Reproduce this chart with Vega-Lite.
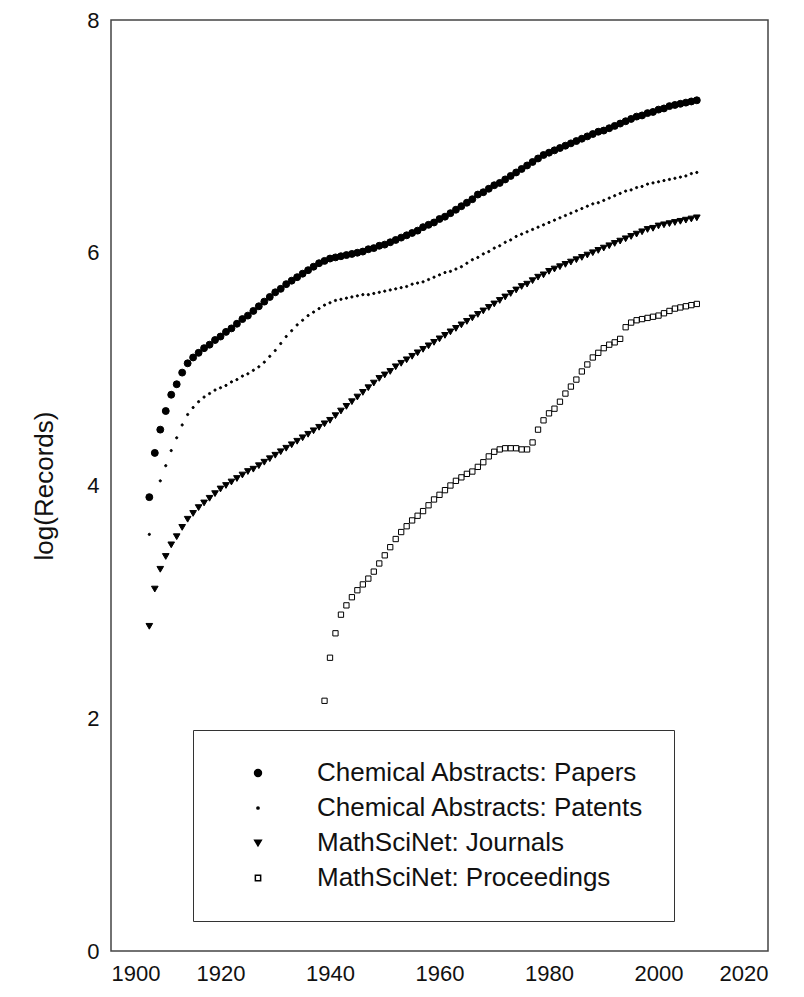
{
 "$schema": "https://vega.github.io/schema/vega-lite/v6.json",
 "width": 657, "height": 931,
 "autosize": {"type": "none"},
 "padding": {"left": 111, "top": 20, "right": 36, "bottom": 46},
 "background": "white",
 "config": {
  "view": {"stroke": "#444", "strokeWidth": 1.5},
  "font": "Liberation Sans",
  "axis": {"grid": false, "domain": false, "ticks": false, "labelFontSize": 22, "labelColor": "#111", "titleFontSize": 26, "titleFontWeight": "normal", "titleColor": "#111", "labelPadding": 12}
 },
 "datasets": {
  "rows": [
{"year":1907,"series":"Chemical Abstracts: Papers","value":3.90},{"year":1908,"series":"Chemical Abstracts: Papers","value":4.28},{"year":1909,"series":"Chemical Abstracts: Papers","value":4.48},{"year":1910,"series":"Chemical Abstracts: Papers","value":4.64},{"year":1911,"series":"Chemical Abstracts: Papers","value":4.78},{"year":1912,"series":"Chemical Abstracts: Papers","value":4.87},{"year":1913,"series":"Chemical Abstracts: Papers","value":4.97},{"year":1914,"series":"Chemical Abstracts: Papers","value":5.05},{"year":1915,"series":"Chemical Abstracts: Papers","value":5.10},{"year":1916,"series":"Chemical Abstracts: Papers","value":5.14},{"year":1917,"series":"Chemical Abstracts: Papers","value":5.18},{"year":1918,"series":"Chemical Abstracts: Papers","value":5.21},{"year":1919,"series":"Chemical Abstracts: Papers","value":5.25},{"year":1920,"series":"Chemical Abstracts: Papers","value":5.28},{"year":1921,"series":"Chemical Abstracts: Papers","value":5.32},{"year":1922,"series":"Chemical Abstracts: Papers","value":5.35},{"year":1923,"series":"Chemical Abstracts: Papers","value":5.39},{"year":1924,"series":"Chemical Abstracts: Papers","value":5.43},{"year":1925,"series":"Chemical Abstracts: Papers","value":5.46},{"year":1926,"series":"Chemical Abstracts: Papers","value":5.50},{"year":1927,"series":"Chemical Abstracts: Papers","value":5.54},{"year":1928,"series":"Chemical Abstracts: Papers","value":5.58},{"year":1929,"series":"Chemical Abstracts: Papers","value":5.62},{"year":1930,"series":"Chemical Abstracts: Papers","value":5.66},{"year":1931,"series":"Chemical Abstracts: Papers","value":5.69},{"year":1932,"series":"Chemical Abstracts: Papers","value":5.73},{"year":1933,"series":"Chemical Abstracts: Papers","value":5.76},{"year":1934,"series":"Chemical Abstracts: Papers","value":5.79},{"year":1935,"series":"Chemical Abstracts: Papers","value":5.82},{"year":1936,"series":"Chemical Abstracts: Papers","value":5.85},{"year":1937,"series":"Chemical Abstracts: Papers","value":5.88},{"year":1938,"series":"Chemical Abstracts: Papers","value":5.91},{"year":1939,"series":"Chemical Abstracts: Papers","value":5.93},{"year":1940,"series":"Chemical Abstracts: Papers","value":5.95},{"year":1941,"series":"Chemical Abstracts: Papers","value":5.96},{"year":1942,"series":"Chemical Abstracts: Papers","value":5.97},{"year":1943,"series":"Chemical Abstracts: Papers","value":5.98},{"year":1944,"series":"Chemical Abstracts: Papers","value":5.99},{"year":1945,"series":"Chemical Abstracts: Papers","value":6.00},{"year":1946,"series":"Chemical Abstracts: Papers","value":6.01},{"year":1947,"series":"Chemical Abstracts: Papers","value":6.03},{"year":1948,"series":"Chemical Abstracts: Papers","value":6.04},{"year":1949,"series":"Chemical Abstracts: Papers","value":6.06},{"year":1950,"series":"Chemical Abstracts: Papers","value":6.07},{"year":1951,"series":"Chemical Abstracts: Papers","value":6.09},{"year":1952,"series":"Chemical Abstracts: Papers","value":6.11},{"year":1953,"series":"Chemical Abstracts: Papers","value":6.13},{"year":1954,"series":"Chemical Abstracts: Papers","value":6.15},{"year":1955,"series":"Chemical Abstracts: Papers","value":6.17},{"year":1956,"series":"Chemical Abstracts: Papers","value":6.19},{"year":1957,"series":"Chemical Abstracts: Papers","value":6.22},{"year":1958,"series":"Chemical Abstracts: Papers","value":6.24},{"year":1959,"series":"Chemical Abstracts: Papers","value":6.26},{"year":1960,"series":"Chemical Abstracts: Papers","value":6.29},{"year":1961,"series":"Chemical Abstracts: Papers","value":6.31},{"year":1962,"series":"Chemical Abstracts: Papers","value":6.34},{"year":1963,"series":"Chemical Abstracts: Papers","value":6.37},{"year":1964,"series":"Chemical Abstracts: Papers","value":6.40},{"year":1965,"series":"Chemical Abstracts: Papers","value":6.43},{"year":1966,"series":"Chemical Abstracts: Papers","value":6.46},{"year":1967,"series":"Chemical Abstracts: Papers","value":6.50},{"year":1968,"series":"Chemical Abstracts: Papers","value":6.52},{"year":1969,"series":"Chemical Abstracts: Papers","value":6.55},{"year":1970,"series":"Chemical Abstracts: Papers","value":6.58},{"year":1971,"series":"Chemical Abstracts: Papers","value":6.60},{"year":1972,"series":"Chemical Abstracts: Papers","value":6.63},{"year":1973,"series":"Chemical Abstracts: Papers","value":6.66},{"year":1974,"series":"Chemical Abstracts: Papers","value":6.69},{"year":1975,"series":"Chemical Abstracts: Papers","value":6.72},{"year":1976,"series":"Chemical Abstracts: Papers","value":6.75},{"year":1977,"series":"Chemical Abstracts: Papers","value":6.78},{"year":1978,"series":"Chemical Abstracts: Papers","value":6.81},{"year":1979,"series":"Chemical Abstracts: Papers","value":6.84},{"year":1980,"series":"Chemical Abstracts: Papers","value":6.86},{"year":1981,"series":"Chemical Abstracts: Papers","value":6.88},{"year":1982,"series":"Chemical Abstracts: Papers","value":6.90},{"year":1983,"series":"Chemical Abstracts: Papers","value":6.92},{"year":1984,"series":"Chemical Abstracts: Papers","value":6.94},{"year":1985,"series":"Chemical Abstracts: Papers","value":6.96},{"year":1986,"series":"Chemical Abstracts: Papers","value":6.98},{"year":1987,"series":"Chemical Abstracts: Papers","value":7.00},{"year":1988,"series":"Chemical Abstracts: Papers","value":7.02},{"year":1989,"series":"Chemical Abstracts: Papers","value":7.04},{"year":1990,"series":"Chemical Abstracts: Papers","value":7.05},{"year":1991,"series":"Chemical Abstracts: Papers","value":7.07},{"year":1992,"series":"Chemical Abstracts: Papers","value":7.09},{"year":1993,"series":"Chemical Abstracts: Papers","value":7.11},{"year":1994,"series":"Chemical Abstracts: Papers","value":7.13},{"year":1995,"series":"Chemical Abstracts: Papers","value":7.15},{"year":1996,"series":"Chemical Abstracts: Papers","value":7.17},{"year":1997,"series":"Chemical Abstracts: Papers","value":7.18},{"year":1998,"series":"Chemical Abstracts: Papers","value":7.20},{"year":1999,"series":"Chemical Abstracts: Papers","value":7.21},{"year":2000,"series":"Chemical Abstracts: Papers","value":7.23},{"year":2001,"series":"Chemical Abstracts: Papers","value":7.24},{"year":2002,"series":"Chemical Abstracts: Papers","value":7.26},{"year":2003,"series":"Chemical Abstracts: Papers","value":7.27},{"year":2004,"series":"Chemical Abstracts: Papers","value":7.28},{"year":2005,"series":"Chemical Abstracts: Papers","value":7.29},{"year":2006,"series":"Chemical Abstracts: Papers","value":7.30},{"year":2007,"series":"Chemical Abstracts: Papers","value":7.31},
{"year":1907,"series":"Chemical Abstracts: Patents","value":3.58},{"year":1909,"series":"Chemical Abstracts: Patents","value":4.04},{"year":1910,"series":"Chemical Abstracts: Patents","value":4.17},{"year":1911,"series":"Chemical Abstracts: Patents","value":4.30},{"year":1912,"series":"Chemical Abstracts: Patents","value":4.41},{"year":1913,"series":"Chemical Abstracts: Patents","value":4.52},{"year":1914,"series":"Chemical Abstracts: Patents","value":4.61},{"year":1915,"series":"Chemical Abstracts: Patents","value":4.67},{"year":1916,"series":"Chemical Abstracts: Patents","value":4.72},{"year":1917,"series":"Chemical Abstracts: Patents","value":4.76},{"year":1918,"series":"Chemical Abstracts: Patents","value":4.79},{"year":1919,"series":"Chemical Abstracts: Patents","value":4.82},{"year":1920,"series":"Chemical Abstracts: Patents","value":4.84},{"year":1921,"series":"Chemical Abstracts: Patents","value":4.86},{"year":1922,"series":"Chemical Abstracts: Patents","value":4.89},{"year":1923,"series":"Chemical Abstracts: Patents","value":4.91},{"year":1924,"series":"Chemical Abstracts: Patents","value":4.94},{"year":1925,"series":"Chemical Abstracts: Patents","value":4.96},{"year":1926,"series":"Chemical Abstracts: Patents","value":4.99},{"year":1927,"series":"Chemical Abstracts: Patents","value":5.02},{"year":1928,"series":"Chemical Abstracts: Patents","value":5.06},{"year":1929,"series":"Chemical Abstracts: Patents","value":5.11},{"year":1930,"series":"Chemical Abstracts: Patents","value":5.16},{"year":1931,"series":"Chemical Abstracts: Patents","value":5.22},{"year":1932,"series":"Chemical Abstracts: Patents","value":5.28},{"year":1933,"series":"Chemical Abstracts: Patents","value":5.33},{"year":1934,"series":"Chemical Abstracts: Patents","value":5.38},{"year":1935,"series":"Chemical Abstracts: Patents","value":5.42},{"year":1936,"series":"Chemical Abstracts: Patents","value":5.46},{"year":1937,"series":"Chemical Abstracts: Patents","value":5.49},{"year":1938,"series":"Chemical Abstracts: Patents","value":5.52},{"year":1939,"series":"Chemical Abstracts: Patents","value":5.55},{"year":1940,"series":"Chemical Abstracts: Patents","value":5.57},{"year":1941,"series":"Chemical Abstracts: Patents","value":5.59},{"year":1942,"series":"Chemical Abstracts: Patents","value":5.60},{"year":1943,"series":"Chemical Abstracts: Patents","value":5.61},{"year":1944,"series":"Chemical Abstracts: Patents","value":5.62},{"year":1945,"series":"Chemical Abstracts: Patents","value":5.63},{"year":1946,"series":"Chemical Abstracts: Patents","value":5.64},{"year":1947,"series":"Chemical Abstracts: Patents","value":5.64},{"year":1948,"series":"Chemical Abstracts: Patents","value":5.65},{"year":1949,"series":"Chemical Abstracts: Patents","value":5.66},{"year":1950,"series":"Chemical Abstracts: Patents","value":5.67},{"year":1951,"series":"Chemical Abstracts: Patents","value":5.68},{"year":1952,"series":"Chemical Abstracts: Patents","value":5.69},{"year":1953,"series":"Chemical Abstracts: Patents","value":5.70},{"year":1954,"series":"Chemical Abstracts: Patents","value":5.71},{"year":1955,"series":"Chemical Abstracts: Patents","value":5.73},{"year":1956,"series":"Chemical Abstracts: Patents","value":5.74},{"year":1957,"series":"Chemical Abstracts: Patents","value":5.75},{"year":1958,"series":"Chemical Abstracts: Patents","value":5.77},{"year":1959,"series":"Chemical Abstracts: Patents","value":5.79},{"year":1960,"series":"Chemical Abstracts: Patents","value":5.81},{"year":1961,"series":"Chemical Abstracts: Patents","value":5.83},{"year":1962,"series":"Chemical Abstracts: Patents","value":5.84},{"year":1963,"series":"Chemical Abstracts: Patents","value":5.86},{"year":1964,"series":"Chemical Abstracts: Patents","value":5.88},{"year":1965,"series":"Chemical Abstracts: Patents","value":5.91},{"year":1966,"series":"Chemical Abstracts: Patents","value":5.94},{"year":1967,"series":"Chemical Abstracts: Patents","value":5.96},{"year":1968,"series":"Chemical Abstracts: Patents","value":5.99},{"year":1969,"series":"Chemical Abstracts: Patents","value":6.01},{"year":1970,"series":"Chemical Abstracts: Patents","value":6.04},{"year":1971,"series":"Chemical Abstracts: Patents","value":6.06},{"year":1972,"series":"Chemical Abstracts: Patents","value":6.09},{"year":1973,"series":"Chemical Abstracts: Patents","value":6.11},{"year":1974,"series":"Chemical Abstracts: Patents","value":6.14},{"year":1975,"series":"Chemical Abstracts: Patents","value":6.16},{"year":1976,"series":"Chemical Abstracts: Patents","value":6.18},{"year":1977,"series":"Chemical Abstracts: Patents","value":6.20},{"year":1978,"series":"Chemical Abstracts: Patents","value":6.22},{"year":1979,"series":"Chemical Abstracts: Patents","value":6.24},{"year":1980,"series":"Chemical Abstracts: Patents","value":6.26},{"year":1981,"series":"Chemical Abstracts: Patents","value":6.28},{"year":1982,"series":"Chemical Abstracts: Patents","value":6.30},{"year":1983,"series":"Chemical Abstracts: Patents","value":6.32},{"year":1984,"series":"Chemical Abstracts: Patents","value":6.34},{"year":1985,"series":"Chemical Abstracts: Patents","value":6.36},{"year":1986,"series":"Chemical Abstracts: Patents","value":6.38},{"year":1987,"series":"Chemical Abstracts: Patents","value":6.40},{"year":1988,"series":"Chemical Abstracts: Patents","value":6.42},{"year":1989,"series":"Chemical Abstracts: Patents","value":6.43},{"year":1990,"series":"Chemical Abstracts: Patents","value":6.45},{"year":1991,"series":"Chemical Abstracts: Patents","value":6.47},{"year":1992,"series":"Chemical Abstracts: Patents","value":6.49},{"year":1993,"series":"Chemical Abstracts: Patents","value":6.51},{"year":1994,"series":"Chemical Abstracts: Patents","value":6.53},{"year":1995,"series":"Chemical Abstracts: Patents","value":6.54},{"year":1996,"series":"Chemical Abstracts: Patents","value":6.56},{"year":1997,"series":"Chemical Abstracts: Patents","value":6.57},{"year":1998,"series":"Chemical Abstracts: Patents","value":6.59},{"year":1999,"series":"Chemical Abstracts: Patents","value":6.60},{"year":2000,"series":"Chemical Abstracts: Patents","value":6.61},{"year":2001,"series":"Chemical Abstracts: Patents","value":6.62},{"year":2002,"series":"Chemical Abstracts: Patents","value":6.63},{"year":2003,"series":"Chemical Abstracts: Patents","value":6.64},{"year":2004,"series":"Chemical Abstracts: Patents","value":6.65},{"year":2005,"series":"Chemical Abstracts: Patents","value":6.66},{"year":2006,"series":"Chemical Abstracts: Patents","value":6.68},{"year":2007,"series":"Chemical Abstracts: Patents","value":6.69},
{"year":1907,"series":"MathSciNet: Journals","value":2.79},{"year":1908,"series":"MathSciNet: Journals","value":3.11},{"year":1909,"series":"MathSciNet: Journals","value":3.28},{"year":1910,"series":"MathSciNet: Journals","value":3.39},{"year":1911,"series":"MathSciNet: Journals","value":3.49},{"year":1912,"series":"MathSciNet: Journals","value":3.56},{"year":1913,"series":"MathSciNet: Journals","value":3.64},{"year":1914,"series":"MathSciNet: Journals","value":3.71},{"year":1915,"series":"MathSciNet: Journals","value":3.76},{"year":1916,"series":"MathSciNet: Journals","value":3.81},{"year":1917,"series":"MathSciNet: Journals","value":3.85},{"year":1918,"series":"MathSciNet: Journals","value":3.89},{"year":1919,"series":"MathSciNet: Journals","value":3.93},{"year":1920,"series":"MathSciNet: Journals","value":3.97},{"year":1921,"series":"MathSciNet: Journals","value":4.00},{"year":1922,"series":"MathSciNet: Journals","value":4.03},{"year":1923,"series":"MathSciNet: Journals","value":4.06},{"year":1924,"series":"MathSciNet: Journals","value":4.09},{"year":1925,"series":"MathSciNet: Journals","value":4.12},{"year":1926,"series":"MathSciNet: Journals","value":4.14},{"year":1927,"series":"MathSciNet: Journals","value":4.17},{"year":1928,"series":"MathSciNet: Journals","value":4.20},{"year":1929,"series":"MathSciNet: Journals","value":4.23},{"year":1930,"series":"MathSciNet: Journals","value":4.26},{"year":1931,"series":"MathSciNet: Journals","value":4.29},{"year":1932,"series":"MathSciNet: Journals","value":4.32},{"year":1933,"series":"MathSciNet: Journals","value":4.35},{"year":1934,"series":"MathSciNet: Journals","value":4.38},{"year":1935,"series":"MathSciNet: Journals","value":4.41},{"year":1936,"series":"MathSciNet: Journals","value":4.44},{"year":1937,"series":"MathSciNet: Journals","value":4.47},{"year":1938,"series":"MathSciNet: Journals","value":4.50},{"year":1939,"series":"MathSciNet: Journals","value":4.53},{"year":1940,"series":"MathSciNet: Journals","value":4.56},{"year":1941,"series":"MathSciNet: Journals","value":4.60},{"year":1942,"series":"MathSciNet: Journals","value":4.64},{"year":1943,"series":"MathSciNet: Journals","value":4.68},{"year":1944,"series":"MathSciNet: Journals","value":4.72},{"year":1945,"series":"MathSciNet: Journals","value":4.76},{"year":1946,"series":"MathSciNet: Journals","value":4.80},{"year":1947,"series":"MathSciNet: Journals","value":4.84},{"year":1948,"series":"MathSciNet: Journals","value":4.88},{"year":1949,"series":"MathSciNet: Journals","value":4.92},{"year":1950,"series":"MathSciNet: Journals","value":4.95},{"year":1951,"series":"MathSciNet: Journals","value":4.98},{"year":1952,"series":"MathSciNet: Journals","value":5.02},{"year":1953,"series":"MathSciNet: Journals","value":5.05},{"year":1954,"series":"MathSciNet: Journals","value":5.08},{"year":1955,"series":"MathSciNet: Journals","value":5.11},{"year":1956,"series":"MathSciNet: Journals","value":5.14},{"year":1957,"series":"MathSciNet: Journals","value":5.17},{"year":1958,"series":"MathSciNet: Journals","value":5.20},{"year":1959,"series":"MathSciNet: Journals","value":5.23},{"year":1960,"series":"MathSciNet: Journals","value":5.26},{"year":1961,"series":"MathSciNet: Journals","value":5.29},{"year":1962,"series":"MathSciNet: Journals","value":5.32},{"year":1963,"series":"MathSciNet: Journals","value":5.35},{"year":1964,"series":"MathSciNet: Journals","value":5.38},{"year":1965,"series":"MathSciNet: Journals","value":5.41},{"year":1966,"series":"MathSciNet: Journals","value":5.44},{"year":1967,"series":"MathSciNet: Journals","value":5.47},{"year":1968,"series":"MathSciNet: Journals","value":5.50},{"year":1969,"series":"MathSciNet: Journals","value":5.53},{"year":1970,"series":"MathSciNet: Journals","value":5.56},{"year":1971,"series":"MathSciNet: Journals","value":5.59},{"year":1972,"series":"MathSciNet: Journals","value":5.62},{"year":1973,"series":"MathSciNet: Journals","value":5.65},{"year":1974,"series":"MathSciNet: Journals","value":5.68},{"year":1975,"series":"MathSciNet: Journals","value":5.71},{"year":1976,"series":"MathSciNet: Journals","value":5.73},{"year":1977,"series":"MathSciNet: Journals","value":5.76},{"year":1978,"series":"MathSciNet: Journals","value":5.79},{"year":1979,"series":"MathSciNet: Journals","value":5.81},{"year":1980,"series":"MathSciNet: Journals","value":5.84},{"year":1981,"series":"MathSciNet: Journals","value":5.86},{"year":1982,"series":"MathSciNet: Journals","value":5.88},{"year":1983,"series":"MathSciNet: Journals","value":5.90},{"year":1984,"series":"MathSciNet: Journals","value":5.92},{"year":1985,"series":"MathSciNet: Journals","value":5.94},{"year":1986,"series":"MathSciNet: Journals","value":5.96},{"year":1987,"series":"MathSciNet: Journals","value":5.98},{"year":1988,"series":"MathSciNet: Journals","value":6.00},{"year":1989,"series":"MathSciNet: Journals","value":6.02},{"year":1990,"series":"MathSciNet: Journals","value":6.04},{"year":1991,"series":"MathSciNet: Journals","value":6.06},{"year":1992,"series":"MathSciNet: Journals","value":6.08},{"year":1993,"series":"MathSciNet: Journals","value":6.10},{"year":1994,"series":"MathSciNet: Journals","value":6.12},{"year":1995,"series":"MathSciNet: Journals","value":6.14},{"year":1996,"series":"MathSciNet: Journals","value":6.16},{"year":1997,"series":"MathSciNet: Journals","value":6.18},{"year":1998,"series":"MathSciNet: Journals","value":6.20},{"year":1999,"series":"MathSciNet: Journals","value":6.21},{"year":2000,"series":"MathSciNet: Journals","value":6.23},{"year":2001,"series":"MathSciNet: Journals","value":6.24},{"year":2002,"series":"MathSciNet: Journals","value":6.25},{"year":2003,"series":"MathSciNet: Journals","value":6.26},{"year":2004,"series":"MathSciNet: Journals","value":6.27},{"year":2005,"series":"MathSciNet: Journals","value":6.28},{"year":2006,"series":"MathSciNet: Journals","value":6.29},{"year":2007,"series":"MathSciNet: Journals","value":6.30},
{"year":1939,"series":"MathSciNet: Proceedings","value":2.15},{"year":1940,"series":"MathSciNet: Proceedings","value":2.52},{"year":1941,"series":"MathSciNet: Proceedings","value":2.73},{"year":1942,"series":"MathSciNet: Proceedings","value":2.89},{"year":1943,"series":"MathSciNet: Proceedings","value":2.97},{"year":1944,"series":"MathSciNet: Proceedings","value":3.04},{"year":1945,"series":"MathSciNet: Proceedings","value":3.10},{"year":1946,"series":"MathSciNet: Proceedings","value":3.15},{"year":1947,"series":"MathSciNet: Proceedings","value":3.20},{"year":1948,"series":"MathSciNet: Proceedings","value":3.26},{"year":1949,"series":"MathSciNet: Proceedings","value":3.33},{"year":1950,"series":"MathSciNet: Proceedings","value":3.40},{"year":1951,"series":"MathSciNet: Proceedings","value":3.47},{"year":1952,"series":"MathSciNet: Proceedings","value":3.54},{"year":1953,"series":"MathSciNet: Proceedings","value":3.60},{"year":1954,"series":"MathSciNet: Proceedings","value":3.65},{"year":1955,"series":"MathSciNet: Proceedings","value":3.70},{"year":1956,"series":"MathSciNet: Proceedings","value":3.74},{"year":1957,"series":"MathSciNet: Proceedings","value":3.78},{"year":1958,"series":"MathSciNet: Proceedings","value":3.83},{"year":1959,"series":"MathSciNet: Proceedings","value":3.88},{"year":1960,"series":"MathSciNet: Proceedings","value":3.92},{"year":1961,"series":"MathSciNet: Proceedings","value":3.96},{"year":1962,"series":"MathSciNet: Proceedings","value":4.00},{"year":1963,"series":"MathSciNet: Proceedings","value":4.04},{"year":1964,"series":"MathSciNet: Proceedings","value":4.07},{"year":1965,"series":"MathSciNet: Proceedings","value":4.10},{"year":1966,"series":"MathSciNet: Proceedings","value":4.12},{"year":1967,"series":"MathSciNet: Proceedings","value":4.16},{"year":1968,"series":"MathSciNet: Proceedings","value":4.20},{"year":1969,"series":"MathSciNet: Proceedings","value":4.25},{"year":1970,"series":"MathSciNet: Proceedings","value":4.29},{"year":1971,"series":"MathSciNet: Proceedings","value":4.31},{"year":1972,"series":"MathSciNet: Proceedings","value":4.32},{"year":1973,"series":"MathSciNet: Proceedings","value":4.32},{"year":1974,"series":"MathSciNet: Proceedings","value":4.32},{"year":1975,"series":"MathSciNet: Proceedings","value":4.31},{"year":1976,"series":"MathSciNet: Proceedings","value":4.31},{"year":1977,"series":"MathSciNet: Proceedings","value":4.37},{"year":1978,"series":"MathSciNet: Proceedings","value":4.48},{"year":1979,"series":"MathSciNet: Proceedings","value":4.56},{"year":1980,"series":"MathSciNet: Proceedings","value":4.62},{"year":1981,"series":"MathSciNet: Proceedings","value":4.66},{"year":1982,"series":"MathSciNet: Proceedings","value":4.72},{"year":1983,"series":"MathSciNet: Proceedings","value":4.79},{"year":1984,"series":"MathSciNet: Proceedings","value":4.85},{"year":1985,"series":"MathSciNet: Proceedings","value":4.91},{"year":1986,"series":"MathSciNet: Proceedings","value":4.98},{"year":1987,"series":"MathSciNet: Proceedings","value":5.04},{"year":1988,"series":"MathSciNet: Proceedings","value":5.10},{"year":1989,"series":"MathSciNet: Proceedings","value":5.14},{"year":1990,"series":"MathSciNet: Proceedings","value":5.18},{"year":1991,"series":"MathSciNet: Proceedings","value":5.21},{"year":1992,"series":"MathSciNet: Proceedings","value":5.23},{"year":1993,"series":"MathSciNet: Proceedings","value":5.26},{"year":1994,"series":"MathSciNet: Proceedings","value":5.36},{"year":1995,"series":"MathSciNet: Proceedings","value":5.40},{"year":1996,"series":"MathSciNet: Proceedings","value":5.42},{"year":1997,"series":"MathSciNet: Proceedings","value":5.43},{"year":1998,"series":"MathSciNet: Proceedings","value":5.44},{"year":1999,"series":"MathSciNet: Proceedings","value":5.45},{"year":2000,"series":"MathSciNet: Proceedings","value":5.46},{"year":2001,"series":"MathSciNet: Proceedings","value":5.48},{"year":2002,"series":"MathSciNet: Proceedings","value":5.50},{"year":2003,"series":"MathSciNet: Proceedings","value":5.52},{"year":2004,"series":"MathSciNet: Proceedings","value":5.53},{"year":2005,"series":"MathSciNet: Proceedings","value":5.54},{"year":2006,"series":"MathSciNet: Proceedings","value":5.55},{"year":2007,"series":"MathSciNet: Proceedings","value":5.56}
  ]
 },
 "data": {"name": "rows"},
 "mark": {"type": "point", "opacity": 1, "stroke": "black", "strokeWidth": 1},
 "encoding": {
  "x": {"field": "year", "type": "quantitative", "scale": {"domain": [1900, 2020], "nice": false, "zero": false}, "axis": {"values": [1900, 1920, 1940, 1960, 1980, 2000, 2020], "format": "d", "title": null}},
  "y": {"field": "value", "type": "quantitative", "scale": {"domain": [0, 8], "nice": false}, "axis": {"values": [0, 2, 4, 6, 8], "title": "log(Records)", "titlePadding": 29}},
  "shape": {"field": "series", "type": "nominal", "scale": {"domain": ["Chemical Abstracts: Papers", "Chemical Abstracts: Patents", "MathSciNet: Journals", "MathSciNet: Proceedings"], "range": ["circle", "circle", "triangle-down", "square"]},
   "legend": {"title": null, "orient": "none", "legendX": 82, "legendY": 710, "strokeColor": "#333", "padding": 30, "labelFontSize": 26, "labelColor": "#111", "labelOffset": 46, "symbolOffset": 22, "rowPadding": 9, "labelLimit": 600, "symbolStrokeColor": "black"}},
  "fill": {"field": "series", "type": "nominal", "scale": {"domain": ["Chemical Abstracts: Papers", "Chemical Abstracts: Patents", "MathSciNet: Journals", "MathSciNet: Proceedings"], "range": ["black", "black", "black", "transparent"]}},
  "size": {"field": "series", "type": "nominal", "scale": {"type": "ordinal", "domain": ["Chemical Abstracts: Papers", "Chemical Abstracts: Patents", "MathSciNet: Journals", "MathSciNet: Proceedings"], "range": [48, 5, 44, 28]}}
 }
}
